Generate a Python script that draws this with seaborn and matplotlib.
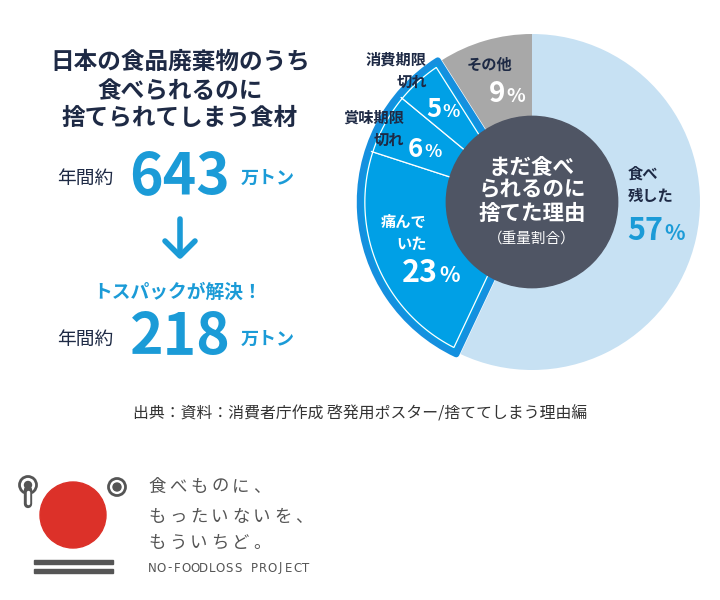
import numpy as np
import matplotlib
matplotlib.use('Agg')
import matplotlib.pyplot as plt
from matplotlib.patches import Wedge, Circle, Polygon, Rectangle
import seaborn as sns

# DATA
reasons = ['食べ\n残した', '痛んで\nいた', '賞味期限\n切れ', '消費期限\n切れ', 'その他']
shares = [57, 23, 6, 5, 9]
colors = ['#c7e1f3', '#00a0e6', '#00a0e6', '#00a0e6', '#a8a8a8']
highlight = [1, 2, 3]   # トスパックで解決できる理由

title_lines = ['日本の食品廃棄物のうち', '食べられるのに', '捨てられてしまう食材']
center_lines = ['まだ食べ', 'られるのに', '捨てた理由']
center_sub = '（重量割合）'
total_before = 643
total_after = 218
unit = '万トン'
per_year = '年間約'
solved = 'トスパックが解決！'
source = '出典：資料：消費者庁作成 啓発用ポスター/捨ててしまう理由編'
logo_lines = ['食べものに、', 'もったいないを、', 'もういちど。']
logo_en = 'NO-FOODLOSS PROJECT'

NAVY = '#1e2a45'
BLUE_TXT = '#1b9bd7'
OUTLINE = '#1590df'
DARK = '#4f5564'
LOGO_GRAY = '#555555'

sns.set_theme(style='white')
plt.rcParams['font.family'] = ['Noto Sans CJK JP', 'DejaVu Sans']

W, H = 720, 600
fig = plt.figure(figsize=(7.2, 6.0), dpi=100)
fig.patch.set_facecolor('white')

# PIE
CX, CY, R = 532, 202, 168
SPAN = 1.25
ax = fig.add_axes([(CX - SPAN * R) / W, (H - CY - SPAN * R) / H,
                   2 * SPAN * R / W, 2 * SPAN * R / H])
wedges, _ = ax.pie(shares, colors=colors, startangle=90, counterclock=False,
                   radius=1, wedgeprops=dict(linewidth=0))
ax.set_xlim(-SPAN, SPAN)
ax.set_ylim(-SPAN, SPAN)
ax.axis('off')

# groupe mis en avant : décalé vers l'extérieur
t1 = min(wedges[i].theta1 for i in highlight)
t2 = max(wedges[i].theta2 for i in highlight)
mid = np.deg2rad((t1 + t2) / 2)
u = np.array([np.cos(mid), np.sin(mid)])
off = 0.025 * u
for i in highlight:
    wedges[i].set_center(tuple(off))
    wedges[i].set_edgecolor('white')
    wedges[i].set_linewidth(0.9)

ax.add_patch(Wedge(tuple(off), 1, t1, t2, fill=False, edgecolor=OUTLINE,
                   linewidth=4.4, joinstyle='round', zorder=3))
# fine ligne blanche intérieure
d = 0.03
half = np.deg2rad((t2 - t1) / 2)
apex = off + d / np.sin(half) * u
delta = np.rad2deg(np.arcsin(d / (1 - d)))
th = np.deg2rad(np.linspace(t1 + delta, t2 - delta, 80))
arc = np.column_stack([off[0] + (1 - d) * np.cos(th), off[1] + (1 - d) * np.sin(th)])
ax.add_patch(Polygon(np.vstack([apex, arc]), closed=True, fill=False,
                     edgecolor='white', linewidth=0.9, zorder=3.2))

ax.add_patch(Circle((0, 0), 0.51, color=DARK, zorder=5))

# OVERLAY (pixel coords)
ov = fig.add_axes([0, 0, 1, 1])
ov.set_xlim(0, W)
ov.set_ylim(H, 0)
ov.axis('off')


def pct(x, y, value, size, color):
    ov.text(x, y, str(value), fontsize=size, color=color, fontweight='bold',
            ha='right', va='baseline')
    ov.text(x + 1, y, '%', fontsize=size * 0.7, color=color, fontweight='bold',
            ha='left', va='baseline')


# pie labels
ov.text(628, 185, reasons[0], fontsize=11, color=NAVY, fontweight='bold',
        ha='left', va='center', linespacing=1.45)
pct(663, 240, shares[0], 22, BLUE_TXT)

ov.text(427, 233, reasons[1], fontsize=11, color='white', fontweight='bold',
        ha='right', va='center', multialignment='right', linespacing=1.45)
pct(438, 282, shares[1], 22, 'white')

ov.text(404, 129, reasons[2], fontsize=11, color=NAVY, fontweight='bold',
        ha='right', va='center', multialignment='right', linespacing=1.45)
pct(423, 157, shares[2], 18.5, 'white')

ov.text(427, 71, reasons[3], fontsize=11, color=NAVY, fontweight='bold',
        ha='right', va='center', multialignment='right', linespacing=1.45)
pct(441, 117, shares[3], 18.5, 'white')

ov.text(490, 65, reasons[4], fontsize=11, color=NAVY, fontweight='bold',
        ha='center', va='center')
pct(505, 102, shares[4], 20, 'white')

for line, y in zip(center_lines, (167, 190, 213)):
    ov.text(532, y, line, fontsize=15.5, color='white', fontweight='bold',
            ha='center', va='center')
ov.text(532, 240, center_sub, fontsize=10.5, color='white', ha='center', va='center')

# LEFT BLOCK
for line, y in zip(title_lines, (62, 91, 118)):
    ov.text(180, y, line, fontsize=17, color=NAVY, fontweight='bold',
            ha='center', va='center')

for val, y in ((total_before, 177), (total_after, 338)):
    ov.text(85, y + 1, per_year, fontsize=13.5, color=NAVY, ha='center', va='center')
    ov.text(180, y, str(val), fontsize=41, color=BLUE_TXT, fontweight='bold',
            ha='center', va='center')
    ov.text(268, y + 1, unit, fontsize=13, color=BLUE_TXT, fontweight='bold',
            ha='center', va='center')

# flèche
ov.plot([180, 180], [219, 255], color=BLUE_TXT, lw=4, solid_capstyle='round')
ov.plot([165, 180, 195], [241, 256, 241], color=BLUE_TXT, lw=4,
        solid_capstyle='round', solid_joinstyle='round')

ov.text(178, 292, solved, fontsize=13.5, color=BLUE_TXT, fontweight='bold',
        ha='center', va='center')

ov.text(360, 414, source, fontsize=11.4, color='#333333', ha='center', va='center')

# LOGO
ov.add_patch(Circle((73, 515), 33, color='#dc3129'))
for yb in (562, 571):
    ov.add_patch(Rectangle((34, yb - 2), 79, 4, color=LOGO_GRAY))
ov.plot([28, 28], [490, 504], color=LOGO_GRAY, lw=6, solid_capstyle='round')
ov.plot([28, 28], [492, 503], color='white', lw=2.5, solid_capstyle='round')
ov.add_patch(Circle((28, 485), 8.5, facecolor='white', edgecolor=LOGO_GRAY, lw=2))
ov.add_patch(Circle((28, 485), 3.5, color=LOGO_GRAY))
ov.add_patch(Circle((117, 487), 8.5, facecolor='white', edgecolor=LOGO_GRAY, lw=2))
ov.add_patch(Circle((117, 487), 4, color=LOGO_GRAY))

for line, y in zip(logo_lines, (487, 517, 543)):
    for k, ch in enumerate(line):
        ov.text(148 + k * 21, y, ch, fontsize=12.5, color=LOGO_GRAY,
                ha='left', va='center')
for k, ch in enumerate(logo_en):
    ov.text(152 + k * 8.55, 568, ch, fontsize=8.5, color=LOGO_GRAY,
            family='DejaVu Sans', ha='center', va='center')

fig.savefig('out.png', dpi=100)
